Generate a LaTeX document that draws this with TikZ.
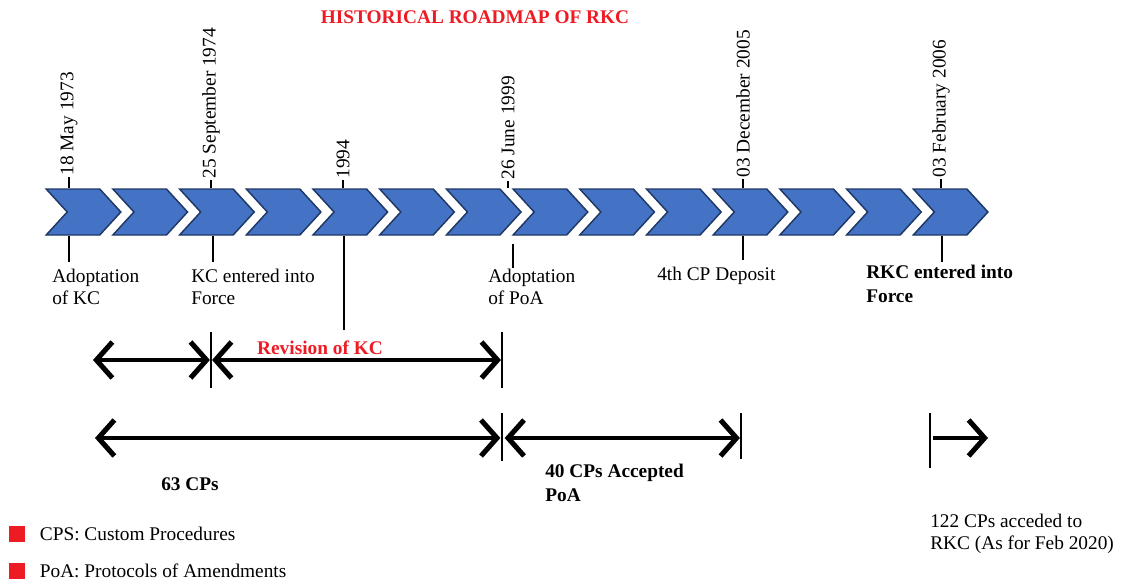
\documentclass[tikz,border=0pt]{standalone}
\usepackage{fontspec}
\setmainfont{Liberation Serif}
\usepackage{xcolor}
\usepackage{tikz}
\usetikzlibrary{arrows.meta,positioning,shapes.symbols}
\definecolor{CHEV}{HTML}{4472C4}
\definecolor{EDGE}{HTML}{1F3864}
\definecolor{ALERT}{HTML}{ED1C24}

\begin{document}
\begin{tikzpicture}[
  x=0.75pt, y=-0.75pt,
  font=\fontsize{14.5}{16.5}\selectfont,
  chev/.style={signal, signal from=west, signal to=east, signal pointer angle=95,
    fill=CHEV, draw=EDGE, line width=1.1pt, minimum width=56pt, minimum height=34.5pt, inner sep=0pt},
  date/.style={rotate=90, anchor=west, inner sep=1pt},
  tick/.style={line width=2.2pt},
  lbl/.style={anchor=north west, align=left, inner sep=0pt},
  bar/.style={line width=1.4pt},
  barb/.tip={Straight Barb[length=12pt,width=27pt,line width=3.8pt]},
  span/.style={line width=3pt, barb-barb},
  ray/.style={line width=3pt, -barb},
  key/.style={fill=ALERT, minimum size=11.5pt, inner sep=0pt},
]
\useasboundingbox (0,0) rectangle (1127,582);

% ===== title =====
\node[font=\fontsize{14.5}{16.5}\selectfont\bfseries, text=ALERT] (title) at (475,17) {HISTORICAL ROADMAP OF RKC};

% ===== chevron band =====
\foreach \i in {0,...,13} {
  \node[chev] (c\i) at ({83.5+66.7*\i}, 212) {};
}

% dates above the band
\node[date] (d1) at (69,177) {18 May 1973};
\node[date] (d2) at (211,180) {25 September 1974};
\node[date] (d3) at (343,180) {1994};
\node[date] (d4) at (508,181) {26 June 1999};
\node[date] (d5) at (743,179) {03 December 2005};
\node[date] (d6) at (941,179) {03 February 2006};
\draw[tick] (d1.west) -- (d1.west |- c0.north);
\draw[tick] (d2.west) -- (d2.west |- c2.north);
\draw[tick] (d3.west) -- (d3.west |- c4.north);
\draw[tick] (d4.west) -- (d4.west |- c6.north);
\draw[tick] (d5.west) -- (d5.west |- c10.north);
\draw[tick] (d6.west) -- (d6.west |- c13.north);

% ticks below the band
\coordinate (e1) at (69,262);
\coordinate (e2) at (213,262);
\coordinate (e3) at (344,330);
\coordinate (e4) at (513,268);
\coordinate (e5) at (743,260);
\coordinate (e6) at (942,262);
\draw[tick] (e1 |- c0.south) -- (e1);
\draw[tick] (e2 |- c2.south) -- (e2);
\draw[tick] (e3 |- c4.south) -- (e3);
\draw[tick] ([yshift=-6pt]e4 |- c6.south) -- (e4);
\draw[tick] (e5 |- c10.south) -- (e5);
\draw[tick] (e6 |- c13.south) -- (e6);

% events
\node[lbl] (l1) at (52,269) {Adoptation\\of KC};
\node[lbl] (l2) at (191,269) {KC entered into\\Force};
\node[lbl] (l4) at (488,269) {Adoptation\\of PoA};
\node[lbl] (l5) at (657,267) {4th CP Deposit};
\node[lbl, font=\fontsize{14.5}{17.5}\selectfont\bfseries] (l6) at (866,265) {RKC entered into\\Force};

% ===== spans, row 1 =====
\coordinate (a1) at (93,360);
\coordinate (a2) at (211,360);
\coordinate (a3) at (502,360);
\draw[bar] (211,332) -- (211,388);
\draw[bar] (502,332) -- (502,388);
\draw[span] (a1) -- ([xshift=-0.8pt]a2);
\draw[span] ([xshift=0.8pt]a2) -- ([xshift=-0.8pt]a3);
\node[font=\fontsize{14.5}{16.5}\selectfont\bfseries, text=ALERT] (rev) at (320,348) {Revision of KC};

% ===== spans, row 2 =====
\coordinate (b1) at (95,438);
\coordinate (b2) at (502,438);
\coordinate (b3) at (741,438);
\coordinate (b4) at (930,438);
\coordinate (b5) at (988,438);
\draw[bar] (502,413) -- (502,461);
\draw[bar] (741,413) -- (741,459);
\draw[bar] (930,413) -- (930,468);
\draw[span] (b1) -- ([xshift=-1.2pt]b2);
\draw[span] ([xshift=2pt]b2) -- ([xshift=-0.8pt]b3);
\draw[ray] ([xshift=2pt]b4) -- (b5);
\node[font=\fontsize{14.5}{16.5}\selectfont\bfseries] (n63) at (190,484) {63 CPs};
\node[lbl, font=\fontsize{14.5}{17.5}\selectfont\bfseries] (n40) at (545,464) {40 CPs Accepted\\PoA};
\node[lbl] (n122) at (930,514) {122 CPs acceded to\\RKC (As for Feb 2020)};

% ===== legend =====
\node[key] (k1) at (17,534) {};
\node[key] (k2) at (17,571) {};
\node[right=11pt of k1, inner sep=0pt] (t1) {CPS: Custom Procedures};
\node[right=11pt of k2, inner sep=0pt] (t2) {PoA: Protocols of Amendments};
\end{tikzpicture}
\end{document}
